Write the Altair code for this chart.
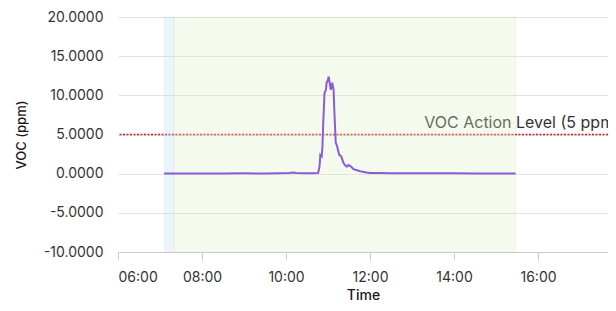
import altair as alt
import pandas as pd

DAY = "2024-01-01 "

times = ["07:06", "07:30", "08:00", "08:30", "09:00", "09:30", "09:50", "10:05",
         "10:10", "10:15", "10:30", "10:40", "10:46", "10:48", "10:49", "10:51",
         "10:52", "10:53", "10:55", "10:57", "10:58", "11:00", "11:01", "11:02",
         "11:04", "11:06", "11:08", "11:09", "11:11", "11:13", "11:16", "11:19",
         "11:22", "11:25", "11:27", "11:29", "11:33", "11:36", "11:39", "11:46",
         "11:55", "12:00", "12:15", "12:30", "13:00", "13:30", "14:00", "14:30",
         "15:00", "15:28"]
voc = [0.02, 0.03, 0.02, 0.03, 0.04, 0.03, 0.05, 0.08,
       0.15, 0.08, 0.04, 0.05, 0.1, 1.0, 2.4, 2.2,
       3.3, 6.0, 10.3, 10.7, 11.6, 12.0, 12.4, 11.8,
       10.7, 11.6, 10.7, 8.2, 4.0, 3.5, 2.4, 2.2,
       1.4, 1.0, 0.9, 1.1, 0.9, 0.6, 0.5, 0.3,
       0.15, 0.1, 0.08, 0.06, 0.05, 0.04, 0.04, 0.03,
       0.03, 0.03]

zone_start = ["07:06", "07:20"]
zone_end = ["07:20", "15:28"]
zone_color = ["#b9dcf4", "#dcefc4"]

x_tick_hours = [6, 8, 10, 12, 14, 16]
y_ticks = [-10, -5, 0, 5, 10, 15, 20]

action_level = 5
action_label = "VOC Action Level (5 ppm)"

line_df = pd.DataFrame({"t": [DAY + t for t in times], "voc": voc})
zone_df = pd.DataFrame({"s": [DAY + t for t in zone_start],
                        "e": [DAY + t for t in zone_end],
                        "c": zone_color})
lvl_df = pd.DataFrame({"y": [action_level], "label": [action_label],
                       "t": [DAY + "18:00"]})


def dt(h, m=0):
    return alt.DateTime(year=2024, month=1, date=1, hours=h, minutes=m)


font = "Inter"
xscale = alt.Scale(domain=[dt(6), dt(17, 40)])
yscale = alt.Scale(domain=[-10, 20])

xax = alt.Axis(format="%H:%M", values=[dt(h) for h in x_tick_hours],
               grid=False, domainColor="#cccccc", tickColor="#cccccc", tickSize=8,
               labelFontSize=14, labelColor="#333333", labelFont=font,
               labelPadding=10, titleFontSize=14, titleFont=font, titleColor="#1a1a1a",
               titleFontWeight=500, titlePadding=4)
yax = alt.Axis(values=y_ticks, grid=True,
               labelExpr="replace(format(datum.value, '.4f'), '\u2212', '-')",
               gridColor="#e2e2e2", domain=False, ticks=False,
               labelFontSize=14, labelColor="#333333", labelFont=font,
               labelPadding=15, titleFontSize=13, titleFont=font, titleColor="#1a1a1a",
               titleFontWeight=500, titleX=-97, titleY=117.5,
               titleAlign="center", titleBaseline="middle")

Y = lambda f: alt.Y(f, scale=yscale, axis=yax, title="VOC (ppm)")
X = lambda f: alt.X(f, scale=xscale, axis=xax, title="Time")

rule = alt.Chart(lvl_df).mark_rule(color="#e8141c", strokeDash=[2, 1.5], strokeWidth=1.5).encode(
    y=Y("y:Q")
)
text = alt.Chart(lvl_df).mark_text(align="right", baseline="alphabetic", dx=-2, dy=-7,
                                   fontSize=16, font=font, color="#333333").encode(
    x=X("t:T"),
    y=Y("y:Q"),
    text="label:N",
)
zones = alt.Chart(zone_df).mark_rect(opacity=0.3, stroke="#bbbbbb", strokeWidth=1,
                                     strokeDash=[1, 1]).encode(
    x=X("s:T"),
    x2="e:T",
    y=alt.value(0),
    y2=alt.value(235),
    fill=alt.Fill("c:N", scale=None),
)
line = alt.Chart(line_df).mark_line(color="#8a5cd6", strokeWidth=2).encode(
    x=X("t:T"),
    y=Y("voc:Q"),
)

chart = alt.layer(rule, text, zones, line).properties(
    width=490, height=235,
    background="white",
    autosize=alt.AutoSizeParams(type="none"),
    padding={"left": 110, "top": 9, "right": 0, "bottom": 51},
).configure_view(stroke=None)

chart.save("out.html", embed_options={"renderer": "svg", "actions": False})
